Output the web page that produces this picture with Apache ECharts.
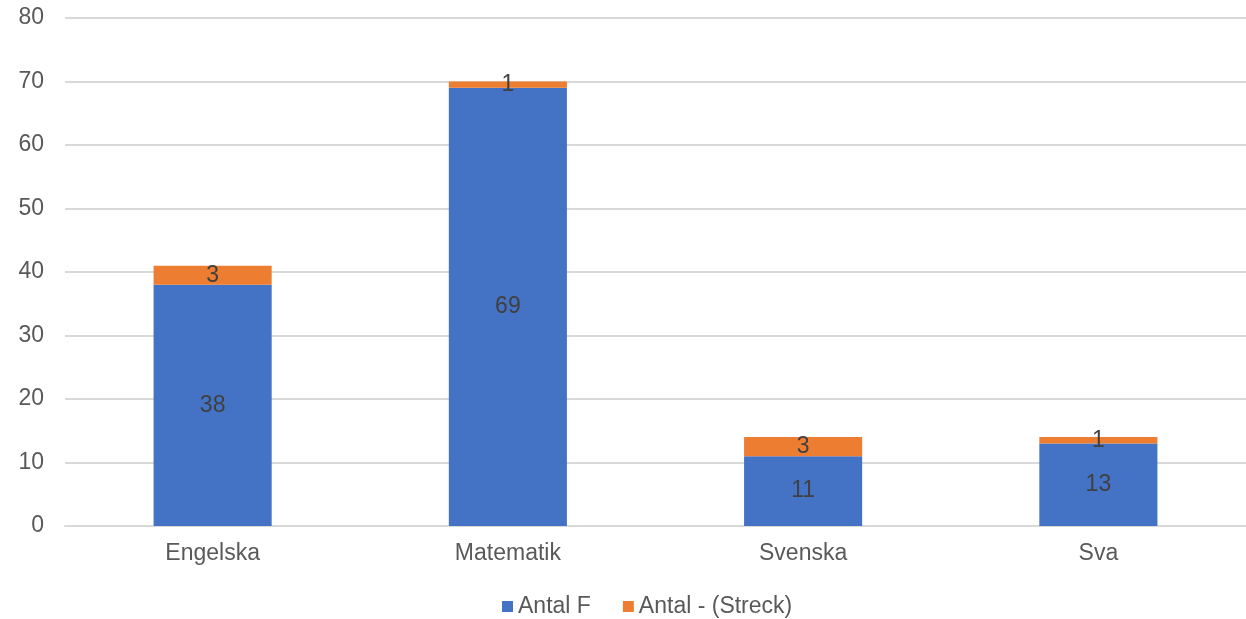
<!DOCTYPE html>
<html><head><meta charset="utf-8">
<script src="https://cdn.jsdelivr.net/npm/echarts@6/dist/echarts.min.js"></script>
<style>html,body{margin:0;padding:0;background:#fff}#c{width:1246px;height:619px}</style>
</head><body><div id="c"></div>
<script>
const categories = ['Engelska', 'Matematik', 'Svenska', 'Sva'];
const antalF = [38, 69, 11, 13];
const antalStreck = [3, 1, 3, 1];
const seriesNames = ['Antal F', 'Antal - (Streck)'];

const chart = echarts.init(document.getElementById('c'), null, {renderer: 'canvas'});
const font = 'Liberation Sans, Arial, sans-serif';
const lbl = {show: true, position: 'inside', color: '#404040', fontSize: 23, fontFamily: font};
chart.setOption({
  animation: false,
  grid: {left: 65, top: 18, width: 1188, height: 508, containLabel: false},
  legend: {
    top: 590, left: 497, itemWidth: 11, itemHeight: 11, itemGap: 32,
    icon: 'rect', textStyle: {fontSize: 23, color: '#595959', fontFamily: font},
    data: seriesNames
  },
  xAxis: {
    type: 'category', data: categories,
    axisLine: {show: true, lineStyle: {color: '#D9D9D9', width: 2}},
    axisTick: {show: false},
    axisLabel: {fontSize: 23, color: '#595959', fontFamily: font, margin: 16}
  },
  yAxis: {
    type: 'value', min: 0, max: 80, interval: 10,
    axisLine: {show: false}, axisTick: {show: false},
    splitLine: {lineStyle: {color: '#D9D9D9', width: 2}},
    axisLabel: {fontSize: 23, color: '#595959', fontFamily: font, margin: 21}
  },
  series: [
    {name: seriesNames[0], type: 'bar', stack: 's', data: antalF, barCategoryGap: '60%',
     itemStyle: {color: '#4472C4'}, label: lbl},
    {name: seriesNames[1], type: 'bar', stack: 's', data: antalStreck,
     itemStyle: {color: '#ED7D31'}, label: lbl}
  ]
});
</script></body></html>
